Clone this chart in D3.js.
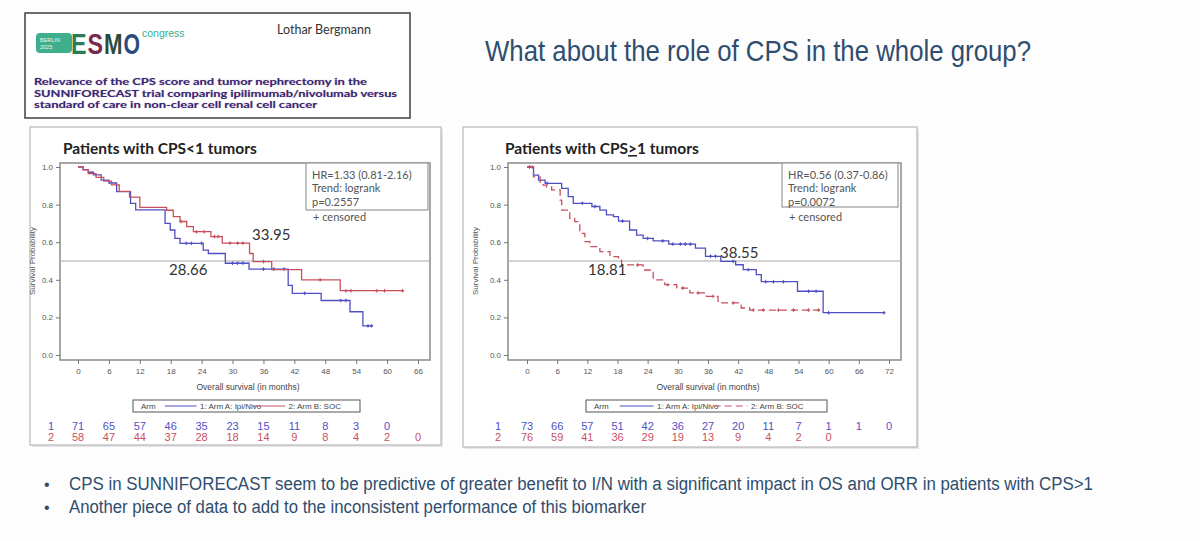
<!DOCTYPE html>
<html><head><meta charset="utf-8">
<script src="https://cdn.jsdelivr.net/npm/d3@7"></script>
<style>
html,body{margin:0;padding:0;background:#fdfdfd;}
svg{display:block;}
</style></head>
<body>
<svg id="c" width="1200" height="541"></svg>
<script>
// ---------------- DATA ----------------
const leftTicks = [0,6,12,18,24,30,36,42,48,54,60,66];
const rightTicks = [0,6,12,18,24,30,36,42,48,54,60,66,72];
const yTicks = [0,0.2,0.4,0.6,0.8,1.0];

// CPS<1 : Arm A Ipi/Nivo (step times in months, survival after step)
const leftIpiTime = [0,1,2,3,4.5,6,7.5,10.2,11.2,16.9,17.9,18.8,19.8,24.3,25.3,28.6,33.2,40.8,41.6,47.2,52.8,55.3];
const leftIpiSurv = [1.0,0.986,0.972,0.958,0.93,0.915,0.869,0.806,0.772,0.70,0.665,0.62,0.594,0.558,0.54,0.488,0.457,0.37,0.328,0.29,0.23,0.155];
const leftIpiEnd = 57;
const leftIpiCens = [21,22,24,30,31,32,36,38,40,44,51,52,56.3,57];
// CPS<1 : Arm B SOC
const leftSocTime = [0,1,2,3.5,5,6.5,8,10,12,17.2,18.5,19.8,21.1,22.4,25.8,28,33.3,34,37.6,43.4,50.9];
const leftSocSurv = [1.0,0.985,0.965,0.945,0.925,0.905,0.87,0.84,0.785,0.77,0.736,0.71,0.683,0.656,0.63,0.595,0.54,0.497,0.454,0.40,0.342];
const leftSocEnd = 63.2;
const leftSocCens = [20,23,24.5,26.5,27.2,29.5,31,32,36,47,52,53,58,59.5,63];
const leftRiskIpi = [71,65,57,46,35,23,15,11,8,3,0];
const leftRiskSoc = [58,47,44,37,28,18,14,9,8,4,2,0];
const leftMedians = ["28.66","33.95"];
const leftStats = ["HR=1.33 (0.81-2.16)","Trend: logrank","p=0.2557"];

// CPS>=1 : Arm A Ipi/Nivo
const rightIpiTime = [0,1.3,2.3,3.6,6.9,8.2,9.2,12.9,14.5,15.8,17.2,18.2,20.4,21.8,23.1,25.1,28.2,33.5,35.5,38.55,41.5,43,45.6,46.6,53.8,58.9];
const rightIpiSurv = [1.0,0.957,0.93,0.913,0.886,0.842,0.807,0.79,0.771,0.745,0.736,0.712,0.665,0.638,0.62,0.607,0.59,0.569,0.525,0.498,0.48,0.454,0.427,0.39,0.339,0.225];
const rightIpiEnd = 71;
const rightIpiCens = [0.5,4,11,13.5,19,24,27,29,30.5,31.5,32.5,36.5,37.5,41,44,47.5,49,51,56,57.5,60,71];
// CPS>=1 : Arm B SOC
const rightSocTime = [0,1.3,2.6,3.2,3.9,4.9,6.6,6.9,8.5,9.5,10.5,11.5,12.5,14.5,16.5,18.2,18.81,23.1,25.1,27.4,29.8,32.4,35.7,38,42.6,44.3];
const rightSocSurv = [1.0,0.948,0.92,0.904,0.895,0.878,0.824,0.771,0.727,0.709,0.647,0.603,0.576,0.55,0.523,0.505,0.479,0.452,0.40,0.374,0.356,0.33,0.312,0.277,0.25,0.239];
const rightSocEnd = 58.3;
const rightSocCens = [1,22,28,31,34,37,41,45,47,50,53,56,58];
const rightRiskIpi = [73,66,57,51,42,36,27,20,11,7,1,1,0];
const rightRiskSoc = [76,59,41,36,29,19,13,9,4,2,0];
const rightMedians = ["18.81","38.55"];
const rightStats = ["HR=0.56 (0.37-0.86)","Trend: logrank","p=0.0072"];

const armLabels = ["1: Arm A: Ipi/Nivo","2: Arm B: SOC"];
const bullets = [
 "CPS in SUNNIFORECAST seem to be  predictive of  greater benefit to I/N with a  significant impact in OS and ORR in  patients with CPS>1",
 "Another piece of data to add to the inconsistent performance of this biomarker"
];
const headerLines = [
 "Relevance of the CPS score and tumor nephrectomy in the",
 "SUNNIFORECAST trial comparing ipilimumab/nivolumab versus",
 "standard of care in non-clear cell renal cell cancer"
];
const logoLetters = ["E","S","M","O"];

// ---------------- DRAWING ----------------
const svg = d3.select("#c");
const BLUE = "#4f4fc4", RED = "#c8505e";
const SANS = "'Liberation Sans', Arial, sans-serif";
const CAL = "Lato, 'Open Sans', sans-serif";
const NARROW = "'Liberation Sans Narrow', 'Liberation Sans', Arial, sans-serif";

// Header box
svg.append("rect").attr("x",25).attr("y",13).attr("width",385).attr("height",105)
  .attr("fill","#fff").attr("stroke","#4a4a4a").attr("stroke-width",1.6);
svg.append("rect").attr("x",36).attr("y",33).attr("width",36).attr("height",20).attr("rx",4).attr("fill","#3fae8c");
svg.append("text").attr("x",40).attr("y",41.5).attr("font-size",5.5).attr("fill","#e8f6f0").attr("font-family",SANS).text("BERLIN");
svg.append("text").attr("x",40).attr("y",48.5).attr("font-size",5.5).attr("fill","#e8f6f0").attr("font-family",SANS).text("2025");
const logoCols = ["#2b7d55","#7a2950","#2d4a3a","#2b4a80"];
const logoX = [71,87.5,104,123.5], logoW = [15.5,15.5,18.5,16.5];
logoLetters.forEach((L,i)=>{
  svg.append("text").attr("transform",`translate(${logoX[i]},54) scale(1,1.45)`).attr("font-size",20).attr("font-weight","bold")
    .attr("font-family",SANS).attr("fill",logoCols[i]).attr("textLength",logoW[i]).attr("lengthAdjust","spacingAndGlyphs").text(L);
});
svg.append("text").attr("x",142).attr("y",37).attr("font-size",10.5).attr("fill","#3aae8a").attr("font-family",SANS).text("congress");
svg.append("text").attr("x",277).attr("y",34).attr("font-size",12.5).attr("fill","#333").attr("font-family",CAL).text("Lothar Bergmann");
const hlLens = [333,363,283];
headerLines.forEach((t,i)=>{
  svg.append("text").attr("x",34).attr("y",85+i*11.5).attr("font-size",10).attr("font-weight","bold")
    .attr("fill","#2c2c82").attr("font-family",CAL).attr("textLength",hlLens[i]).attr("lengthAdjust","spacingAndGlyphs")
    .style("text-shadow","0 0 1px #d88").text(t);
});

// Slide title (narrow look via horizontal scale)
const TSX = 0.86;
svg.append("text").attr("transform",`translate(485,61) scale(${TSX},1)`).attr("font-size",29.5).attr("fill","#2f4d6e")
  .attr("font-family",NARROW).attr("textLength",546/TSX).attr("lengthAdjust","spacingAndGlyphs")
  .text("What about the role of CPS in the whole group?");

// Bullets
const bLens = [1024,577];
const BSX = 0.8;
bullets.forEach((t,i)=>{
  const y = 490 + i*23;
  svg.append("text").attr("x",44).attr("y",y).attr("font-size",16).attr("fill","#2f4d6e").attr("font-family",SANS).text("•");
  svg.append("text").attr("transform",`translate(69,${y}) scale(${BSX},1)`).attr("font-size",19).attr("fill","#2f4d6e")
    .attr("font-family",NARROW).attr("textLength",bLens[i]/BSX).attr("lengthAdjust","spacingAndGlyphs").text(t);
});

function drawPanel(cfg){
  const g = svg.append("g");
  g.append("rect").attr("x",cfg.box[0]+2).attr("y",cfg.box[1]+2).attr("width",cfg.box[2]).attr("height",cfg.box[3]).attr("fill","#e6e6e6");
  g.append("rect").attr("x",cfg.box[0]).attr("y",cfg.box[1]).attr("width",cfg.box[2]).attr("height",cfg.box[3])
    .attr("fill","#fff").attr("stroke","#b8b8b8").attr("stroke-width",1.2);

  const x = d3.scaleLinear().domain([0,cfg.ticks[cfg.ticks.length-1]]).range(cfg.xr);
  const y = d3.scaleLinear().domain([0,1]).range([355,167]);
  const f = cfg.frame;

  const tt = g.append("text").attr("x",cfg.titleX).attr("y",154).attr("font-size",15.5).attr("font-weight","bold")
    .attr("fill","#222").attr("font-family",CAL);
  cfg.title.forEach(p=>{ const s=tt.append("tspan").text(p.t); if(p.u) s.attr("text-decoration","underline"); });

  g.append("rect").attr("x",f[0]).attr("y",f[1]).attr("width",f[2]-f[0]).attr("height",f[3]-f[1])
    .attr("fill","none").attr("stroke","#8a8a8a").attr("stroke-width",1.5);

  const ya = g.append("g").attr("transform",`translate(${f[0]},0)`)
    .call(d3.axisLeft(y).tickValues(yTicks).tickFormat(d3.format(".1f")).tickSize(4).tickPadding(3));
  ya.select(".domain").remove();
  ya.selectAll("line").attr("stroke","#777");
  ya.selectAll("text").attr("font-size",8).attr("fill","#555").attr("font-family",SANS);
  const xa = g.append("g").attr("transform",`translate(0,${f[3]})`)
    .call(d3.axisBottom(x).tickValues(cfg.ticks).tickFormat(d3.format("d")).tickSize(4).tickPadding(4));
  xa.select(".domain").remove();
  xa.selectAll("line").attr("stroke","#777");
  xa.selectAll("text").attr("font-size",8).attr("fill","#555").attr("font-family",SANS);

  g.append("text").attr("transform",`translate(${cfg.yTitleX},${261}) rotate(-90)`).attr("text-anchor","middle")
    .attr("font-size",8).attr("fill","#555").attr("font-family",SANS).text("Survival Probability");
  g.append("text").attr("x",(x(0)+x(cfg.ticks[cfg.ticks.length-1]))/2).attr("y",390).attr("text-anchor","middle")
    .attr("font-size",8.5).attr("fill","#444").attr("font-family",SANS).text("Overall survival (in months)");

  g.append("line").attr("x1",f[0]).attr("x2",f[2]).attr("y1",y(0.5)).attr("y2",y(0.5)).attr("stroke","#aaa").attr("stroke-width",1.2);

  const line = d3.line().x(d=>x(d[0])).y(d=>y(d[1])).curve(d3.curveStepAfter);
  function stepAt(times,surv,t){ let s=surv[0]; for(let i=0;i<times.length;i++){ if(times[i]<=t) s=surv[i]; } return s; }
  cfg.curves.forEach(c=>{
    const pts = c.t.map((t,i)=>[t,c.s[i]]); pts.push([c.end,c.s[c.s.length-1]]);
    g.append("path").attr("d",line(pts)).attr("fill","none").attr("stroke",c.col).attr("stroke-width",1.3)
      .attr("stroke-dasharray",c.dash||null);
    c.cens.forEach(m=>{
      const yy = y(stepAt(c.t,c.s,m));
      g.append("line").attr("x1",x(m)).attr("x2",x(m)).attr("y1",yy-1.8).attr("y2",yy+1.8).attr("stroke",c.col).attr("stroke-width",1);
      g.append("line").attr("x1",x(m)-1.5).attr("x2",x(m)+1.5).attr("y1",yy).attr("y2",yy).attr("stroke",c.col).attr("stroke-width",1.4);
    });
  });

  cfg.medians.forEach(m=>{
    g.append("text").attr("x",m.x).attr("y",m.y).attr("font-size",15).attr("fill","#333").attr("font-family",CAL).text(m.t);
  });

  const sb = cfg.statBox;
  g.append("rect").attr("x",sb[0]).attr("y",sb[1]).attr("width",sb[2]).attr("height",sb[3]).attr("fill","#fff").attr("stroke","#999").attr("stroke-width",1.2);
  cfg.stats.forEach((t,i)=>{
    g.append("text").attr("x",sb[0]+6).attr("y",sb[1]+15.5+i*13.5).attr("font-size",11).attr("fill","#555").attr("font-family",CAL).text(t);
  });
  g.append("text").attr("x",sb[0]+7).attr("y",221).attr("font-size",11).attr("fill","#555").attr("font-family",CAL).text("+ censored");

  const lg = cfg.legend;
  g.append("rect").attr("x",lg[0]).attr("y",400).attr("width",lg[1]-lg[0]).attr("height",12).attr("fill","#fff").attr("stroke","#555").attr("stroke-width",1);
  g.append("text").attr("x",lg[0]+8).attr("y",409).attr("font-size",8).attr("fill","#444").attr("font-family",SANS).text("Arm");
  const w = lg[1]-lg[0];
  const l1 = lg[0]+w*0.14, l2 = lg[0]+w*0.53;
  g.append("line").attr("x1",l1).attr("x2",l1+w*0.14).attr("y1",406).attr("y2",406).attr("stroke",BLUE).attr("stroke-width",1.2);
  g.append("text").attr("x",l1+w*0.155).attr("y",409).attr("font-size",8).attr("fill","#444").attr("font-family",SANS).text(armLabels[0]);
  g.append("line").attr("x1",l2).attr("x2",l2+w*0.14).attr("y1",406).attr("y2",406).attr("stroke",RED).attr("stroke-width",1.2)
    .attr("stroke-dasharray",cfg.curves[1].dash||null);
  g.append("text").attr("x",l2+w*0.155).attr("y",409).attr("font-size",8).attr("fill","#444").attr("font-family",SANS).text(armLabels[1]);

  [[cfg.riskIpi,"1",BLUE,430],[cfg.riskSoc,"2",RED,441]].forEach(r=>{
    g.append("text").attr("x",cfg.riskLabelX).attr("y",r[3]).attr("text-anchor","middle").attr("font-size",11).attr("fill",r[2]).attr("font-family",SANS).text(r[1]);
    r[0].forEach((v,i)=>{
      g.append("text").attr("x",x(cfg.ticks[i])).attr("y",r[3]).attr("text-anchor","middle").attr("font-size",11).attr("fill",r[2]).attr("font-family",SANS).text(v);
    });
  });
}

drawPanel({
  box:[30,127,411,318], frame:[60,163,430,360], xr:[78,418], ticks:leftTicks,
  titleX:63, title:[{t:"Patients with CPS<1 tumors"}], yTitleX:35,
  curves:[
    {t:leftIpiTime,s:leftIpiSurv,end:leftIpiEnd,cens:leftIpiCens,col:BLUE},
    {t:leftSocTime,s:leftSocSurv,end:leftSocEnd,cens:leftSocCens,col:RED}
  ],
  medians:[{t:leftMedians[0],x:169,y:275},{t:leftMedians[1],x:252,y:240}],
  statBox:[306,163,122,47], stats:leftStats, legend:[133,360],
  riskIpi:leftRiskIpi, riskSoc:leftRiskSoc, riskLabelX:51
});
drawPanel({
  box:[463,127,454,320], frame:[508,163,901,360], xr:[527,889], ticks:rightTicks,
  titleX:505, title:[{t:"Patients with CPS"},{t:">",u:true},{t:"1 tumors"}], yTitleX:478,
  curves:[
    {t:rightIpiTime,s:rightIpiSurv,end:rightIpiEnd,cens:rightIpiCens,col:BLUE},
    {t:rightSocTime,s:rightSocSurv,end:rightSocEnd,cens:rightSocCens,col:RED,dash:"7,4"}
  ],
  medians:[{t:rightMedians[0],x:588,y:275},{t:rightMedians[1],x:720,y:258}],
  statBox:[782,163,116,44], stats:rightStats, legend:[586,827],
  riskIpi:rightRiskIpi, riskSoc:rightRiskSoc, riskLabelX:498
});
</script>
</body></html>
